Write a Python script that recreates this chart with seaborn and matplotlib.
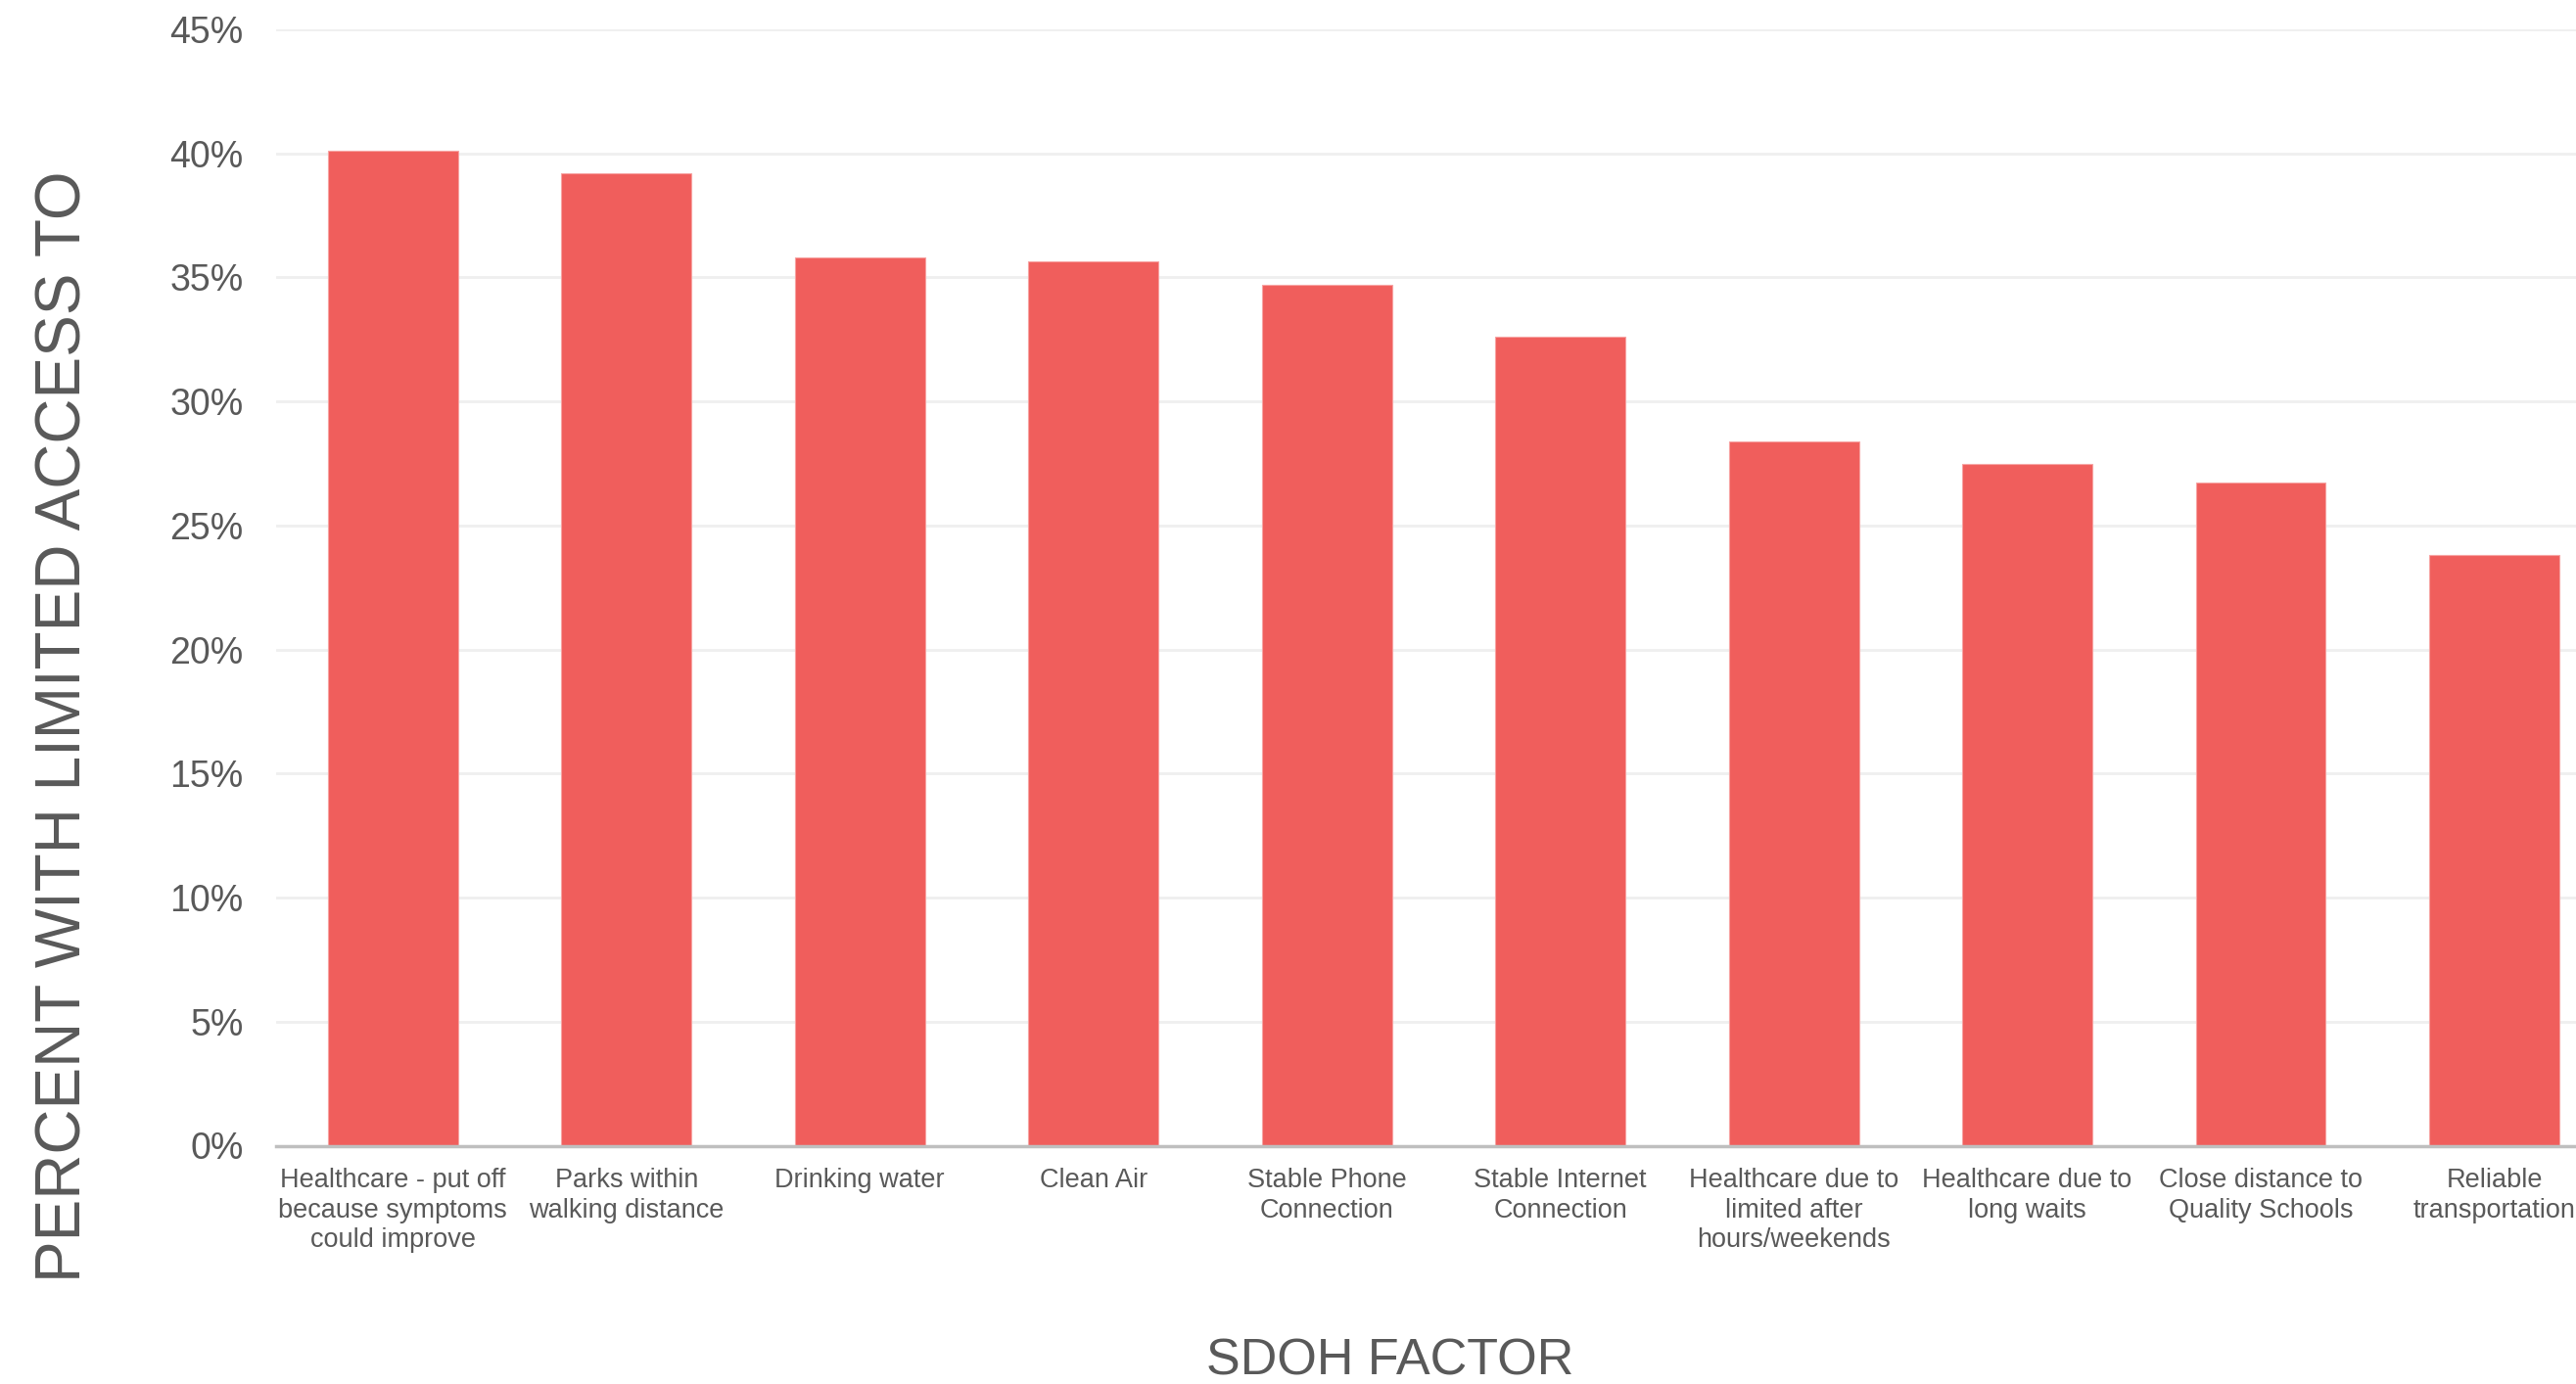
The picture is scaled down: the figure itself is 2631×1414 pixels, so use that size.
import matplotlib
matplotlib.use("Agg")
import matplotlib.pyplot as plt
import seaborn as sns
import pandas as pd
from matplotlib.ticker import FuncFormatter

categories = [
    "Healthcare - put off\nbecause symptoms\ncould improve",
    "Parks within\nwalking distance",
    "Drinking water",
    "Clean Air",
    "Stable Phone\nConnection",
    "Stable Internet\nConnection",
    "Healthcare due to\nlimited after\nhours/weekends",
    "Healthcare due to\nlong waits",
    "Close distance to\nQuality Schools",
    "Reliable\ntransportation",
]
values = [40.1, 39.2, 35.8, 35.65, 34.7, 32.6, 28.4, 27.5, 26.75, 23.8]
y_ticks = [0, 5, 10, 15, 20, 25, 30, 35, 40, 45]

sns.set_theme(style="white")
plt.rcParams["font.family"] = ["Liberation Sans", "DejaVu Sans"]

text_color = "#595959"
bar_color = "#F05E5C"

df = pd.DataFrame({"factor": categories, "pct": values})

W, H = 2631, 1414
fig = plt.figure(figsize=(W / 100, H / 100), dpi=100)
ax = fig.add_axes([282 / W, 1 - 1170.5 / H, (W - 282) / W, (1170.5 - 30) / H])

sns.barplot(data=df, x="factor", y="pct", color=bar_color, saturation=1,
            width=0.557, ax=ax, edgecolor="#F7A3A2", linewidth=0.8, zorder=3)

ax.set_ylim(0, 45)
ax.set_xlim(-0.5, 9.35)
ax.set_yticks(y_ticks)
ax.yaxis.set_major_formatter(FuncFormatter(lambda v, p: f"{int(v)}%"))
ax.grid(axis="y", color="#EFEFEF", linewidth=2, zorder=0)
ax.grid(axis="x", visible=False)
ax.set_axisbelow(True)

for s in ["top", "right", "left"]:
    ax.spines[s].set_visible(False)
ax.spines["bottom"].set_color("#BFBFBF")
ax.spines["bottom"].set_linewidth(2.5)
ax.spines["bottom"].set_zorder(4)

ax.tick_params(axis="y", length=0, pad=24, labelsize=27, labelcolor=text_color)
ax.tick_params(axis="x", length=0, pad=16.5, labelsize=19.5, labelcolor=text_color)
for lab in ax.get_xticklabels():
    lab.set_linespacing(1.21)
    lab.set_ha("center")

ax.set_xlabel("SDOH FACTOR", fontsize=37.5, color=text_color)
ax.xaxis.set_label_coords(0.4845, -0.1718)
ax.set_ylabel("PERCENT WITH LIMITED ACCESS TO", fontsize=46, color=text_color)
ax.yaxis.set_label_coords(-0.0796, 0.3757)

fig.savefig("out.png", dpi=100, facecolor="white")
